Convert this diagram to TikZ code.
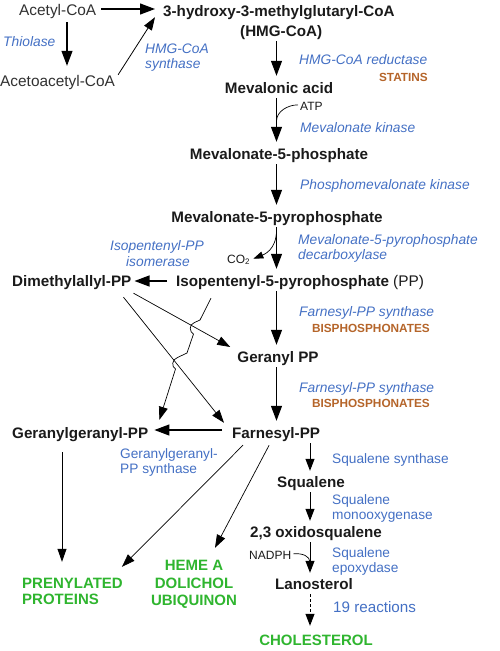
\documentclass[tikz,border=0pt]{standalone}
\usepackage{fontspec}
\setmainfont{Liberation Sans}
\usetikzlibrary{arrows.meta,calc}
\definecolor{enzblue}{HTML}{4470C4}
\definecolor{inhorange}{HTML}{B5652A}
\definecolor{prodgreen}{HTML}{2FB52F}
\definecolor{txtdark}{HTML}{1A1A1A}
\tikzset{
 bnode/.style={font=\fontsize{15.2}{18}\selectfont\bfseries, text=txtdark, inner sep=0pt, text height=11pt, text depth=3pt},
 rnode/.style={font=\fontsize{15.4}{18}\selectfont, text=txtdark!90, inner sep=0pt, text height=11pt, text depth=3pt},
 enzi/.style={font=\fontsize{13.8}{16}\selectfont\itshape, text=enzblue, inner sep=0pt},
 enzr/.style={font=\fontsize{13.7}{16}\selectfont, text=enzblue, inner sep=0pt},
 inhib/.style={font=\fontsize{11.8}{14}\selectfont\bfseries, text=inhorange, inner sep=0pt},
 prod/.style={font=\fontsize{15}{18}\selectfont\bfseries, text=prodgreen, inner sep=0pt, text height=11pt, text depth=0pt},
 cofac/.style={font=\fontsize{12}{14}\selectfont, text=txtdark, inner sep=0pt},
 mainarr/.style={line width=1.2pt, -{Triangle[length=15pt,width=11pt]}, shorten <=2pt, shorten >=6pt},
 lowarr/.style={line width=1pt, -{Triangle[length=12pt,width=9pt]}, shorten <=2pt, shorten >=5pt},
 thinarr/.style={line width=0.7pt, -{Triangle[length=13pt,width=9pt]}},
 cofline/.style={line width=0.7pt},
}
\begin{document}
\begin{tikzpicture}[x=1pt,y=-1pt]
\useasboundingbox (0,0) rectangle (500,651);
\coordinate (col) at (276.5,0);
\coordinate (colL) at (310,0);
\coordinate (colG) at (62,0);
\coordinate (colA) at (67,0);

% --- nodes ---
\node[rnode, anchor=base west] (acetyl) at (19,15) {Acetyl-CoA};
\node[bnode, anchor=base west] (hmgA) at (163,16) {3-hydroxy-3-methylglutaryl-CoA};
\node[bnode, anchor=base west] (hmgB) at (240,36) {(HMG-CoA)};
\node[enzi, anchor=base west] (thio) at (3,46) {Thiolase};
\node[rnode, anchor=base west] (acac) at (0,86) {Acetoacetyl-CoA};
\node[enzi, anchor=base west] (hsyn1) at (145,53) {HMG-CoA};
\node[enzi, anchor=base west] (hsyn2) at (145,68) {synthase};
\node[enzi, anchor=base west] (hred) at (299,64) {HMG-CoA reductase};
\node[inhib, anchor=base east] (stat) at (428,81) {STATINS};
\node[bnode, anchor=base] (mev) at (279,93) {Mevalonic acid};
\node[cofac, anchor=base west] (atp) at (300,110) {ATP};
\node[enzi, anchor=base west] (mk) at (300,132) {Mevalonate kinase};
\node[bnode, anchor=base] (m5p) at (279,159) {Mevalonate-5-phosphate};
\node[enzi, anchor=base west] (pmk) at (300,189) {Phosphomevalonate kinase};
\node[bnode, anchor=base] (m5pp) at (277,222) {Mevalonate-5-pyrophosphate};
\node[enzi, anchor=base west] (dc1) at (298,244) {Mevalonate-5-pyrophosphate};
\node[enzi, anchor=base west] (dc2) at (298,259) {decarboxylase};
\node[cofac, anchor=base west] (co2) at (227,263) {CO\textsubscript{2}};
\node[enzi, anchor=base] (iso1) at (157,250) {Isopentenyl-PP};
\node[enzi, anchor=base] (iso2) at (158,266) {isomerase};
\node[bnode, anchor=base west] (dmapp) at (12,286) {Dimethylallyl-PP};
\node[bnode, anchor=base west] (ipp) at (176,286) {Isopentenyl-5-pyrophosphate {\mdseries\fontsize{15.4}{18}\selectfont(PP)}};
\node[enzi, anchor=base west] (fps1) at (299,316) {Farnesyl-PP synthase};
\node[inhib, anchor=base east] (bis1) at (430,332) {BISPHOSPHONATES};
\node[bnode, anchor=base] (gpp) at (278,362) {Geranyl PP};
\node[enzi, anchor=base west] (fps2) at (299,392) {Farnesyl-PP synthase};
\node[inhib, anchor=base east] (bis2) at (430,407) {BISPHOSPHONATES};
\node[bnode, anchor=base west] (ggpp) at (12,438) {Geranylgeranyl-PP};
\node[bnode, anchor=base west] (fpp) at (232,438) {Farnesyl-PP};
\node[enzr, anchor=base west] (ggs1) at (120,458) {Geranylgeranyl-};
\node[enzr, anchor=base west] (ggs2) at (120,473) {PP synthase};
\node[enzr, anchor=base west] (sqs) at (332,463) {Squalene synthase};
\node[bnode, anchor=base] (sq) at (311,487) {Squalene};
\node[enzr, anchor=base west] (sqm1) at (332,504) {Squalene};
\node[enzr, anchor=base west] (sqm2) at (332,519) {monooxygenase};
\node[bnode, anchor=base] (oxs) at (316,537) {2,3 oxidosqualene};
\node[cofac, anchor=base west] (nadph) at (249,559) {NADPH};
\node[enzr, anchor=base west] (sqe1) at (332,557) {Squalene};
\node[enzr, anchor=base west] (sqe2) at (332,572) {epoxydase};
\node[bnode, anchor=base] (lano) at (314,589) {Lanosterol};
\node[enzr, font=\fontsize{15.2}{18}\selectfont, anchor=base west] (r19) at (333,612) {19 reactions};
\node[prod, anchor=base] (chol) at (316,645) {CHOLESTEROL};
\node[prod, anchor=base west] (pren1) at (22,588) {PRENYLATED};
\node[prod, anchor=base west] (pren2) at (22,604) {PROTEINS};
\node[prod, anchor=base] (heme) at (194,570) {HEME A};
\node[prod, anchor=base] (dol) at (194,588) {DOLICHOL};
\node[prod, anchor=base] (ubi) at (194,605) {UBIQUINON};

% --- top part ---
\draw[mainarr, shorten <=5pt, shorten >=8pt] ($(acetyl.east)+(0,-2)$) -- ($(acetyl.east -| hmgA.west)+(0,-2)$);
\draw[mainarr, shorten <=4pt, shorten >=9pt] (acetyl.south -| colA) -- (acac.north -| colA);
\draw[thinarr, line width=0.8pt] ($(acac.north east)+(3,0)$) -- ($(hmgA.south west)+(-8,-2)$);

% --- main column ---
\draw[mainarr] (hmgB.south -| col) -- (mev.north -| col);
\draw[mainarr] (mev.south -| col) -- (m5p.north -| col);
\draw[mainarr] (m5p.south -| col) -- (m5pp.north -| col);
\draw[mainarr] (m5pp.south -| col) -- (ipp.north -| col);
\draw[mainarr] (ipp.south -| col) -- (gpp.north -| col);
\draw[mainarr] (gpp.south -| col) -- (fpp.north -| col);

% cofactors
\draw[cofline] ($(atp.west)+(-2,-1)$) .. controls +(-10,0) and +(0,-10) .. ($(mev.south -| col)+(0,25)$);
\draw[cofline, -{Triangle[length=10pt,width=7pt]}] ($(m5pp.south -| col)+(0,5)$) .. controls +(0,20) and +(10,-4) .. ($(co2.east)+(3,-1)$);
\draw[cofline] ($(nadph.east)+(2,-1)$) .. controls +(9,-1) and +(0,-6) .. ($(oxs.south -| colL)+(0,22)$);

% --- horizontal ---
\draw[mainarr, shorten <=9pt, shorten >=3pt] ($(ipp.west)+(0,-1)$) -- ($(ipp.west -| dmapp.east)+(0,-1)$);
\draw[mainarr, shorten <=10pt, shorten >=6pt] ($(fpp.west)+(0,-4)$) -- ($(fpp.west -| ggpp.east)+(0,-4)$);

% --- crossing lines ---
\draw[thinarr] ($(dmapp.south east)+(2,4)$) -- ($(gpp.west)+(-7,-11)$);
\draw[thinarr] ($(dmapp.south east)+(-8,8)$) -- ($(fpp.north west)+(-8,-4)$);
\coordinate (hs) at ($(ipp.south west)+(35,9)$);
\coordinate (he) at ($(ggpp.north east)+(11,-7)$);
\coordinate (h1) at (200,320);
\coordinate (h2) at (194.5,322.5);
\coordinate (h3) at (193.5,334);
\coordinate (h4) at (187,353);
\coordinate (h5) at (177.5,357.5);
\coordinate (h6) at (175.5,369);
\draw[thinarr] (hs) -- (h1) -- (h2) .. controls +(-6,2) and +(-4,-2) .. (h3) -- (h4) -- (h5) .. controls +(-6,2) and +(-4,-2) .. (h6) -- (he);

% --- products ---
\draw[thinarr, line width=0.8pt] ($(ggpp.south -| colG)+(0,11)$) -- ($(pren1.north -| colG)+(0,-15)$);
\draw[thinarr] ($(fpp.south west)+(11,4)$) -- ($(pren1.north east)+(-1,-10)$);
\draw[thinarr] ($(fpp.south)+(-7,4)$) -- ($(heme.north)+(21,-11)$);

% --- lower column ---
\draw[lowarr] (fpp.south -| colL) -- (sq.north -| colL);
\draw[lowarr] (sq.south -| colL) -- (oxs.north -| colL);
\draw[lowarr] (oxs.south -| colL) -- (lano.north -| colL);
\draw[lowarr, dash pattern=on 3pt off 2pt, shorten >=8pt] (lano.south -| colL) -- (chol.north -| colL);
\end{tikzpicture}
\end{document}
